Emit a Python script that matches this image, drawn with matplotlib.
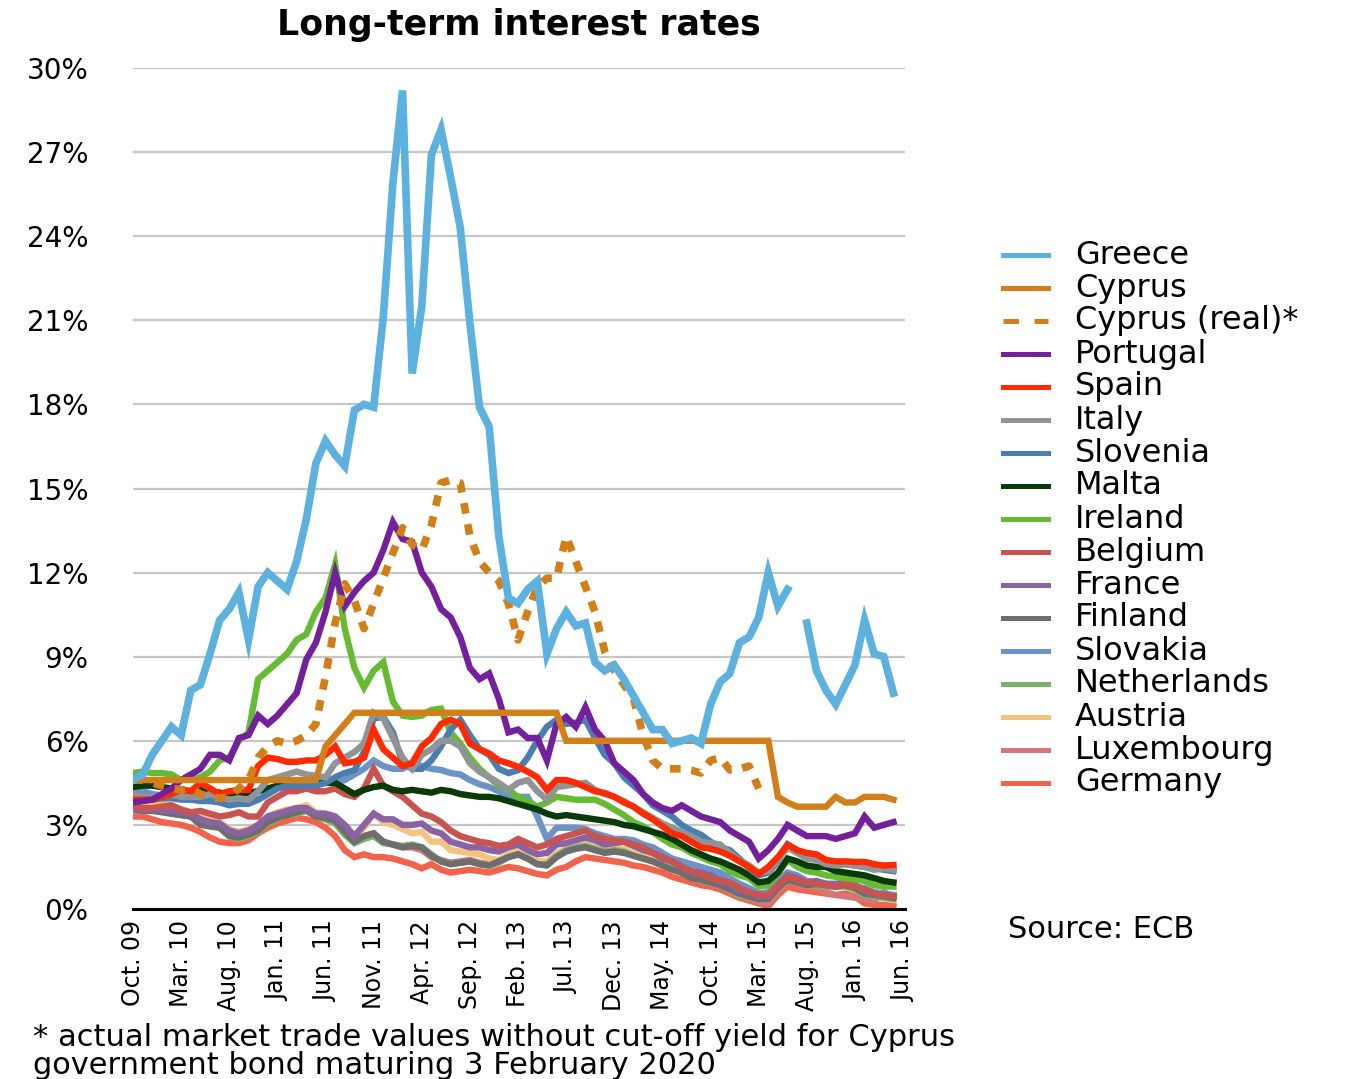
import numpy as np
import matplotlib
matplotlib.use("Agg")
import matplotlib.pyplot as plt
from matplotlib.lines import Line2D

nan = np.nan

# monthly, Oct 2009 .. May 2016 (80 months); tick labels every 5 months
tick_labels = ["Oct. 09", "Mar. 10", "Aug. 10", "Jan. 11", "Jun. 11", "Nov. 11",
               "Apr. 12", "Sep. 12", "Feb. 13", "Jul. 13", "Dec. 13", "May. 14",
               "Oct. 14", "Mar. 15", "Aug. 15", "Jan. 16", "Jun. 16"]

greece = [4.6, 4.8, 5.5, 6.0, 6.5, 6.2, 7.8, 8.0, 9.1, 10.3,
          10.7, 11.3, 9.6, 11.5, 12.0, 11.7, 11.4, 12.4, 13.9, 15.9,
          16.7, 16.2, 15.8, 17.8, 18.0, 17.9, 21.1, 25.9, 29.2, 19.1,
          21.5, 26.9, 27.8, 26.1, 24.3, 20.9, 17.9, 17.2, 13.3, 11.1,
          10.9, 11.4, 11.7, 9.1, 10.0, 10.6, 10.1, 10.2, 8.8, 8.5,
          8.7, 8.2, 7.6, 7.0, 6.4, 6.4, 5.9, 6.0, 6.1, 5.9,
          7.3, 8.1, 8.4, 9.5, 9.7, 10.4, 12.0, 10.8, 11.4, nan,
          10.2, 8.5, 7.8, 7.3, 8.0, 8.7, 10.3, 9.1, 9.0, 7.7]
cyprus = [4.6, 4.6, 4.6, 4.6, 4.6, 4.6, 4.6, 4.6, 4.6, 4.6,
          4.6, 4.6, 4.6, 4.6, 4.6, 4.6, 4.6, 4.6, 4.6, 4.6,
          5.8, 6.2, 6.6, 7.0, 7.0, 7.0, 7.0, 7.0, 7.0, 7.0,
          7.0, 7.0, 7.0, 7.0, 7.0, 7.0, 7.0, 7.0, 7.0, 7.0,
          7.0, 7.0, 7.0, 7.0, 7.0, 6.0, 6.0, 6.0, 6.0, 6.0,
          6.0, 6.0, 6.0, 6.0, 6.0, 6.0, 6.0, 6.0, 6.0, 6.0,
          6.0, 6.0, 6.0, 6.0, 6.0, 6.0, 6.0, 4.0, 3.8, 3.65,
          3.65, 3.65, 3.65, 4.0, 3.8, 3.8, 4.0, 4.0, 4.0, 3.9]
cyprus_real = [4.6, 4.6, 4.5, 4.4, 4.3, 4.25, 4.3, 4.1, 4.0, 3.95,
               4.0, 4.3, 4.6, 5.4, 5.8, 6.0, 5.9, 6.0, 6.2, 6.6,
               8.3, 10.2, 11.6, 11.0, 10.0, 10.9, 11.8, 12.7, 13.6, 13.0,
               12.8, 13.7, 15.2, 15.3, 15.2, 13.3, 12.4, 12.0, 11.7, 10.9,
               9.6, 10.6, 11.5, 11.8, 11.8, 13.3, 12.4, 11.5, 10.6, 9.2,
               8.5, 8.0, 7.5, 6.2, 5.3, 5.0, 5.0, 5.0, 4.95, 4.85,
               5.3, 5.4, 4.96, 5.0, 5.1, 4.3, nan, nan, nan, nan,
               nan, nan, nan, nan, nan, nan, nan, nan, nan, nan]
portugal = [3.8, 3.85, 3.9, 4.1, 4.3, 4.6, 4.8, 5.0, 5.5, 5.5,
            5.3, 6.1, 6.2, 6.9, 6.6, 6.9, 7.3, 7.7, 8.9, 9.5,
            10.6, 12.0, 10.8, 11.3, 11.7, 12.0, 12.8, 13.8, 13.2, 13.1,
            12.0, 11.5, 10.7, 10.4, 9.7, 8.6, 8.2, 8.4, 7.5, 6.3,
            6.4, 6.1, 6.1, 5.3, 6.6, 6.85, 6.5, 7.2, 6.4, 6.0,
            5.2, 4.9, 4.6, 4.1, 3.8, 3.6, 3.5, 3.7, 3.5, 3.3,
            3.2, 3.1, 2.8, 2.6, 2.4, 1.8, 2.1, 2.5, 3.0, 2.8,
            2.6, 2.6, 2.6, 2.5, 2.6, 2.7, 3.3, 2.9, 3.0, 3.1]
spain = [3.9, 3.9, 3.9, 4.0, 4.1, 4.25, 4.2, 4.5, 4.3, 4.1,
         4.2, 4.25, 4.25, 5.1, 5.4, 5.35, 5.25, 5.25, 5.3, 5.3,
         5.5, 5.8, 5.2, 5.25, 5.4, 6.4, 5.7, 5.4, 5.1, 5.2,
         5.8, 6.1, 6.6, 6.75, 6.6, 5.9, 5.7, 5.55, 5.3, 5.2,
         5.07, 4.9, 4.7, 4.25, 4.6, 4.6, 4.5, 4.35, 4.2, 4.14,
         4.0, 3.8, 3.65, 3.4, 3.2, 2.95, 2.7, 2.6, 2.4, 2.2,
         2.15, 2.05, 1.9, 1.7, 1.5, 1.25, 1.5, 1.85, 2.3, 2.1,
         2.0, 1.95, 1.75, 1.7, 1.7, 1.68, 1.68, 1.6, 1.55, 1.57]
italy = [4.1, 4.0, 4.0, 4.05, 4.1, 4.0, 4.0, 4.0, 4.1, 4.0,
         3.9, 3.95, 3.9, 4.2, 4.6, 4.7, 4.8, 4.9, 4.8, 4.75,
         4.7, 5.2, 5.4, 5.6, 5.9, 7.0, 6.8, 6.1, 5.4, 5.0,
         5.5, 5.7, 6.0, 6.0, 5.8, 5.2, 4.9, 4.7, 4.5, 4.25,
         4.5, 4.6, 4.2, 3.9, 4.35, 4.4, 4.45, 4.5, 4.25, 4.1,
         4.0, 3.85, 3.65, 3.45, 3.25, 3.05, 2.9, 2.75, 2.6, 2.4,
         2.35, 2.3, 2.0, 1.75, 1.55, 1.3, 1.35, 1.75, 2.2, 2.0,
         1.8, 1.75, 1.6, 1.55, 1.6, 1.55, 1.5, 1.4, 1.45, 1.4]
slovenia = [4.0, 3.9, 3.9, 3.95, 3.95, 3.9, 3.9, 3.85, 3.85, 3.8,
            3.7, 3.75, 3.75, 3.9, 4.1, 4.3, 4.4, 4.4, 4.4, 4.4,
            4.5, 4.7, 4.85, 4.95, 5.6, 6.8, 6.85, 6.3, 5.2, 5.0,
            5.0, 5.3, 5.8, 6.4, 6.75, 6.2, 5.7, 5.5, 5.0, 4.85,
            4.95, 5.4, 6.0, 6.5, 6.75, 6.6, 6.65, 6.75, 6.1, 5.5,
            5.2, 4.7, 4.4, 4.1, 3.7, 3.5, 3.3, 3.0, 2.8, 2.65,
            2.4, 2.2, 2.1, 1.8, 1.45, 1.2, 1.3, 1.7, 2.3, 2.1,
            1.9, 1.85, 1.7, 1.6, 1.6, 1.55, 1.5, 1.45, 1.4, 1.35]
malta = [4.35, 4.4, 4.4, 4.35, 4.3, 4.25, 4.2, 4.25, 4.2, 4.15,
         4.1, 4.1, 4.15, 4.2, 4.3, 4.4, 4.45, 4.4, 4.5, 4.5,
         4.5, 4.5, 4.3, 4.1, 4.25, 4.35, 4.4, 4.25, 4.2, 4.25,
         4.2, 4.15, 4.25, 4.2, 4.1, 4.05, 4.0, 4.0, 3.95, 3.85,
         3.75, 3.65, 3.55, 3.4, 3.3, 3.35, 3.3, 3.25, 3.2, 3.15,
         3.1, 3.0, 2.95, 2.85, 2.75, 2.65, 2.5, 2.3, 2.1, 1.95,
         1.8, 1.7, 1.55, 1.4, 1.2, 0.95, 1.0, 1.3, 1.8, 1.7,
         1.55, 1.5, 1.5, 1.35, 1.3, 1.25, 1.2, 1.1, 1.0, 0.95]
ireland = [4.85, 4.9, 4.85, 4.85, 4.8, 4.6, 4.65, 4.7, 4.9, 5.3,
           5.4, 6.0, 6.3, 8.2, 8.5, 8.8, 9.1, 9.6, 9.8, 10.6,
           11.1, 12.3, 10.0, 8.6, 7.9, 8.5, 8.8, 7.4, 6.9, 6.85,
           6.9, 7.1, 7.15, 6.3, 5.9, 5.4, 5.0, 4.7, 4.4, 4.25,
           4.0, 3.85, 3.65, 3.8, 4.0, 3.95, 3.9, 3.9, 3.9, 3.75,
           3.55, 3.35, 3.1, 2.95, 2.75, 2.5, 2.3, 2.2, 2.0, 1.85,
           1.7, 1.6, 1.35, 1.2, 1.1, 0.8, 0.85, 1.25, 1.75, 1.5,
           1.35, 1.3, 1.2, 1.15, 1.1, 1.05, 1.0, 0.85, 0.8, 0.8]
belgium = [3.65, 3.6, 3.6, 3.65, 3.7, 3.55, 3.45, 3.5, 3.4, 3.3,
           3.35, 3.45, 3.3, 3.3, 3.8, 4.0, 4.2, 4.2, 4.3, 4.2,
           4.2, 4.3, 4.1, 4.0, 4.3, 5.0, 4.4, 4.2, 4.0, 3.7,
           3.4, 3.3, 3.1, 2.8, 2.6, 2.5, 2.4, 2.35, 2.25, 2.3,
           2.5, 2.35, 2.2, 2.3, 2.5, 2.6, 2.7, 2.8, 2.6, 2.5,
           2.45, 2.4, 2.3, 2.2, 2.0, 1.85, 1.7, 1.5, 1.35, 1.25,
           1.1, 1.0, 0.95, 0.75, 0.6, 0.5, 0.5, 0.85, 1.15, 1.05,
           0.95, 0.9, 0.85, 0.8, 0.9, 0.8, 0.7, 0.55, 0.5, 0.45]
france = [3.6, 3.55, 3.55, 3.5, 3.5, 3.45, 3.4, 3.2, 3.1, 3.05,
          2.8, 2.7, 2.8, 3.0, 3.3, 3.4, 3.5, 3.6, 3.6, 3.4,
          3.4, 3.3, 3.0, 2.6, 3.0, 3.4, 3.2, 3.2, 3.0, 3.0,
          3.05, 2.8, 2.7, 2.4, 2.3, 2.2, 2.2, 2.1, 2.05, 2.2,
          2.3, 2.1, 1.95, 2.0, 2.3, 2.35, 2.45, 2.55, 2.45, 2.3,
          2.35, 2.4, 2.25, 2.1, 2.0, 1.8, 1.7, 1.5, 1.35, 1.3,
          1.2, 1.05, 0.9, 0.65, 0.6, 0.45, 0.45, 0.85, 1.2, 1.1,
          0.95, 1.0, 0.9, 0.9, 0.95, 0.85, 0.65, 0.5, 0.5, 0.45]
finland = [3.55, 3.5, 3.5, 3.45, 3.4, 3.35, 3.3, 3.0, 2.95, 2.9,
           2.6, 2.55, 2.65, 2.8, 3.1, 3.25, 3.35, 3.45, 3.55, 3.3,
           3.25, 3.15, 2.75, 2.4, 2.6, 2.7, 2.4, 2.3, 2.2, 2.25,
           2.2, 1.9, 1.7, 1.6, 1.65, 1.7, 1.6, 1.55, 1.7, 1.85,
           1.95, 1.8, 1.6, 1.55, 1.85, 2.05, 2.15, 2.2, 2.1, 2.0,
           2.05, 2.0, 1.9, 1.8, 1.7, 1.55, 1.4, 1.3, 1.1, 1.05,
           0.95, 0.85, 0.7, 0.55, 0.45, 0.35, 0.35, 0.75, 1.05, 0.95,
           0.85, 0.9, 0.85, 0.8, 0.85, 0.75, 0.55, 0.5, 0.45, 0.4]
slovakia = [4.3, 4.2, 4.1, 4.05, 4.05, 4.0, 3.95, 3.9, 3.9, 3.9,
            3.85, 3.8, 3.8, 3.9, 4.1, 4.3, 4.4, 4.45, 4.5, 4.5,
            4.5, 4.5, 4.6, 4.8, 5.0, 5.3, 5.1, 5.0, 5.0, 5.2,
            5.1, 5.0, 4.96, 4.85, 4.8, 4.6, 4.45, 4.35, 4.2, 4.0,
            4.0, 4.0, 3.3, 2.5, 2.9, 2.9, 2.9, 2.85, 2.7, 2.6,
            2.5, 2.5, 2.45, 2.3, 2.2, 2.0, 1.8, 1.7, 1.6, 1.5,
            1.4, 1.3, 1.1, 0.9, 0.75, 0.55, 0.6, 1.0, 1.3, 1.2,
            1.0, 0.95, 0.9, 0.85, 0.9, 0.8, 0.75, 0.6, 0.55, 0.5]
netherlands = [3.6, 3.55, 3.55, 3.5, 3.45, 3.4, 3.35, 3.05, 2.95, 2.9,
               2.6, 2.5, 2.6, 2.75, 3.05, 3.2, 3.35, 3.4, 3.5, 3.3,
               3.2, 3.05, 2.65, 2.35, 2.5, 2.6, 2.35, 2.3, 2.25, 2.3,
               2.2, 1.95, 1.7, 1.6, 1.65, 1.7, 1.6, 1.55, 1.65, 1.85,
               1.95, 1.8, 1.6, 1.6, 1.9, 2.1, 2.2, 2.25, 2.15, 2.05,
               2.1, 2.05, 1.9, 1.8, 1.7, 1.55, 1.45, 1.3, 1.15, 1.05,
               0.95, 0.85, 0.7, 0.5, 0.45, 0.35, 0.35, 0.75, 1.05, 0.95,
               0.85, 0.85, 0.8, 0.8, 0.8, 0.7, 0.5, 0.45, 0.4, 0.35]
austria = [3.75, 3.65, 3.7, 3.75, 3.7, 3.55, 3.45, 3.3, 3.2, 3.1,
           2.85, 2.75, 2.85, 3.0, 3.3, 3.45, 3.55, 3.6, 3.7, 3.45,
           3.4, 3.3, 2.95, 2.6, 2.9, 3.4, 3.1, 3.0, 2.85, 2.7,
           2.75, 2.4, 2.4, 2.1, 2.05, 2.0, 1.95, 1.8, 1.75, 1.95,
           2.1, 1.85, 1.7, 1.7, 2.0, 2.15, 2.2, 2.3, 2.2, 2.1,
           2.15, 2.15, 2.0, 1.9, 1.8, 1.65, 1.5, 1.35, 1.15, 1.1,
           1.0, 0.9, 0.75, 0.55, 0.5, 0.35, 0.35, 0.75, 1.1, 1.0,
           0.85, 0.9, 0.85, 0.8, 0.85, 0.75, 0.55, 0.45, 0.4, 0.35]
luxembourg = [3.7, 3.6, 3.55, 3.55, 3.4, 3.35, 3.3, 3.15, 3.05, 2.95,
              2.7, 2.6, 2.7, 2.9, 3.15, 3.3, 3.4, 3.45, 3.5, 3.3,
              3.2, 3.1, 2.7, 2.4, 2.6, 2.7, 2.4, 2.3, 2.2, 2.2,
              2.1, 1.85, 1.75, 1.65, 1.7, 1.75, 1.65, 1.6, 1.7, 1.9,
              2.0, 1.85, 1.65, 1.6, 1.95, 2.1, 2.2, 2.3, 2.2, 2.1,
              2.15, 2.1, 1.95, 1.8, 1.7, 1.55, 1.45, 1.3, 1.1, 1.0,
              0.9, 0.8, 0.65, 0.45, 0.35, 0.25, 0.2, 0.65, 1.0, 0.9,
              0.8, 0.75, 0.6, 0.5, 0.45, 0.4, 0.35, 0.3, 0.6, 0.45]
germany = [3.3, 3.3, 3.2, 3.1, 3.05, 3.0, 2.9, 2.75, 2.55, 2.4,
           2.35, 2.35, 2.45, 2.7, 2.9, 3.05, 3.15, 3.25, 3.2, 3.1,
           2.9, 2.6, 2.1, 1.85, 1.95, 1.85, 1.85, 1.8, 1.7, 1.6,
           1.45, 1.6, 1.4, 1.3, 1.35, 1.4, 1.35, 1.3, 1.4, 1.5,
           1.45, 1.35, 1.25, 1.2, 1.4, 1.5, 1.7, 1.85, 1.8, 1.75,
           1.7, 1.65, 1.55, 1.5, 1.4, 1.3, 1.15, 1.05, 0.95, 0.85,
           0.8, 0.7, 0.55, 0.4, 0.3, 0.2, 0.1, 0.5, 0.8, 0.7,
           0.65, 0.6, 0.55, 0.5, 0.55, 0.45, 0.2, 0.15, 0.15, 0.1]

series = [
    ("Greece", greece, "#5DB1DE", "-"),
    ("Cyprus", cyprus, "#D27F1A", "-"),
    ("Cyprus (real)*", cyprus_real, "#D27F1A", ":"),
    ("Portugal", portugal, "#74209C", "-"),
    ("Spain", spain, "#FF2A00", "-"),
    ("Italy", italy, "#8F9496", "-"),
    ("Slovenia", slovenia, "#4A7EB0", "-"),
    ("Malta", malta, "#0A3A0A", "-"),
    ("Ireland", ireland, "#66BB33", "-"),
    ("Belgium", belgium, "#C85450", "-"),
    ("France", france, "#8A63A5", "-"),
    ("Finland", finland, "#6E6E6E", "-"),
    ("Slovakia", slovakia, "#6B93C8", "-"),
    ("Netherlands", netherlands, "#77B36A", "-"),
    ("Austria", austria, "#F5C27F", "-"),
    ("Luxembourg", luxembourg, "#D4767A", "-"),
    ("Germany", germany, "#F2634B", "-"),
]

W, H = 1359, 1079
fig = plt.figure(figsize=(W / 100, H / 100), dpi=100)
ax = fig.add_axes([133 / W, 1 - 909 / H, (905 - 133) / W, (909 - 68) / H])

x = np.arange(len(greece))
for name, vals, color, style in reversed(series):
    if style == ":":
        ax.plot(x, vals, color=color, lw=5.5, linestyle=(0, (1.4, 1.4)),
                dash_capstyle="butt")
    else:
        lw = 5.5 if name == "Greece" else 4.6
        ax.plot(x, vals, color=color, lw=lw, solid_joinstyle="miter")

ax.set_xlim(0, 80.2)
ax.set_ylim(0, 30)
ax.set_yticks(range(0, 31, 3))
ax.set_yticklabels([f"{v}%" for v in range(0, 31, 3)], fontsize=20)
ax.set_xticks(range(0, 81, 5))
ax.set_xticklabels(tick_labels, rotation=90, fontsize=17)
ax.tick_params(axis="both", length=0)
ax.tick_params(axis="y", pad=32)
ax.tick_params(axis="x", pad=8)
ax.yaxis.grid(True, color="#c6c6c6", lw=1.6)
ax.set_axisbelow(True)
for s in ["top", "right", "left"]:
    ax.spines[s].set_visible(False)
ax.spines["bottom"].set_linewidth(2.2)
ax.spines["bottom"].set_color("black")

fig.text(519 / W, 1 - 25 / H, "Long-term interest rates", ha="center",
         va="center", fontsize=25, fontweight="bold")

# legend drawn by hand so rows match the reference spacing
for k, (name, vals, color, style) in enumerate(series):
    yc = 1 - (255 + k * 33) / H
    ls = (0, (3.1, 3.1)) if style == ":" else "-"
    fig.add_artist(Line2D([1003 / W, 1048 / W], [yc, yc], transform=fig.transFigure,
                          color=color, lw=3.6, linestyle=ls, dash_capstyle="butt"))
    fig.text(1075 / W, yc, name, va="center", ha="left", fontsize=23)

fig.text(1008 / W, 1 - 930 / H, "Source: ECB", va="center", ha="left", fontsize=22)
fig.text(33 / W, 1 - 1038 / H,
         "* actual market trade values without cut-off yield for Cyprus",
         va="center", ha="left", fontsize=22)
fig.text(33 / W, 1 - 1065 / H, "government bond maturing 3 February 2020",
         va="center", ha="left", fontsize=22)

fig.savefig("out.png", dpi=100)
